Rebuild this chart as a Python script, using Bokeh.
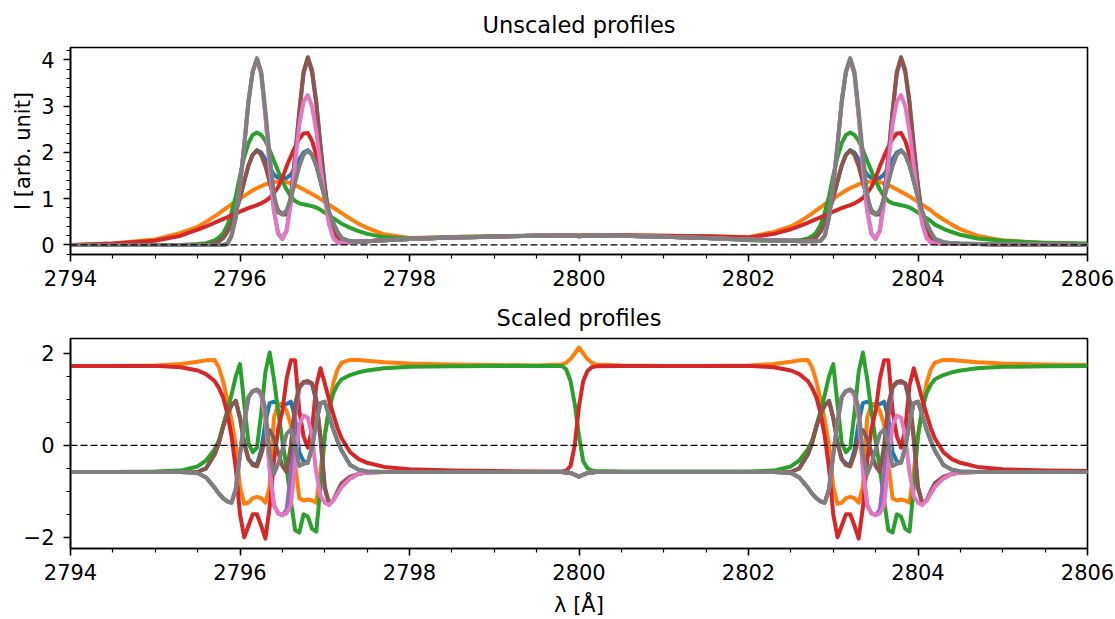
from bokeh.plotting import figure
from bokeh.layouts import column
from bokeh.models import FixedTicker, Span
from bokeh.core.properties import value
from bokeh.embed import file_html
from bokeh.resources import INLINE

# ---------------- wavelength grid (Angstrom) ----------------
wl_blue_edge = [2794.0, 2794.5]
wl_k = [2795.0, 2795.3, 2795.5, 2795.6, 2795.7, 2795.75, 2795.8, 2795.85, 2795.9, 2795.95,
        2796.0, 2796.05, 2796.1, 2796.15, 2796.2, 2796.25, 2796.3, 2796.35, 2796.4, 2796.45,
        2796.5, 2796.55, 2796.6, 2796.65, 2796.7, 2796.75, 2796.8, 2796.85, 2796.9, 2796.95,
        2797.0, 2797.05, 2797.1, 2797.15, 2797.2, 2797.3, 2797.4, 2797.5, 2797.7, 2798.0]
wl_mid = [2798.5, 2799.0, 2799.5, 2799.8, 2799.85, 2799.9, 2799.95, 2800.0, 2800.05,
          2800.1, 2800.15, 2800.2, 2800.5, 2801.0, 2801.5]
wl_h = [2802.0, 2802.3, 2802.5, 2802.6, 2802.7, 2802.75, 2802.8, 2802.85, 2802.9, 2802.95,
        2803.0, 2803.05, 2803.1, 2803.15, 2803.2, 2803.25, 2803.3, 2803.35, 2803.4, 2803.45,
        2803.5, 2803.55, 2803.6, 2803.65, 2803.7, 2803.75, 2803.8, 2803.85, 2803.9, 2803.95,
        2804.0, 2804.05, 2804.1, 2804.15, 2804.2, 2804.3, 2804.4, 2804.5, 2804.7, 2805.0]
wl_red_edge = [2805.5, 2806.0]

# ---------------- unscaled profiles ----------------
# continuum values at: 2 left edge points, 15 middle points, 2 right edge points
u_cont_narrow = [0.0, 0.0, 0.16, 0.18, 0.2, 0.2, 0.2, 0.2, 0.2, 0.19, 0.2, 0.2, 0.2, 0.2, 0.2, 0.18, 0.15, 0.01, 0.0]
u_cont_orange = [0.0, 0.03, 0.17, 0.19, 0.2, 0.21, 0.21, 0.21, 0.21, 0.21, 0.21, 0.21, 0.21, 0.21, 0.21, 0.2, 0.19, 0.04, 0.02]
u_cont_green = [0.0, 0.0, 0.17, 0.19, 0.2, 0.2, 0.2, 0.2, 0.2, 0.2, 0.2, 0.2, 0.2, 0.2, 0.2, 0.18, 0.15, 0.05, 0.03]
u_cont_red = [0.0, 0.03, 0.16, 0.18, 0.2, 0.2, 0.2, 0.2, 0.2, 0.2, 0.2, 0.2, 0.2, 0.2, 0.21, 0.2, 0.19, 0.01, 0.0]

u_blue_k = [0.0, 0.0, 0.0, 0.01, 0.04, 0.08, 0.15, 0.28, 0.48, 0.72, 1.02, 1.38, 1.72, 1.95, 2.05, 2.0, 1.85, 1.68, 1.52, 1.45,
            1.44, 1.45, 1.52, 1.68, 1.85, 2.0, 2.05, 1.95, 1.72, 1.38, 1.02, 0.72, 0.48, 0.28, 0.15, 0.08, 0.07, 0.08, 0.1, 0.13]
u_blue_h = [0.12, 0.1, 0.09, 0.09, 0.1, 0.12, 0.17, 0.29, 0.48, 0.72, 1.02, 1.38, 1.72, 1.95, 2.05, 2.0, 1.85, 1.68, 1.52, 1.45,
            1.44, 1.45, 1.52, 1.68, 1.85, 2.0, 2.05, 1.95, 1.72, 1.38, 1.02, 0.72, 0.48, 0.28, 0.13, 0.06, 0.04, 0.03, 0.02, 0.01]
u_orange_k = [0.12, 0.26, 0.39, 0.5, 0.62, 0.68, 0.75, 0.81, 0.88, 0.94, 1.0, 1.06, 1.12, 1.18, 1.23, 1.27, 1.31, 1.34, 1.36, 1.37,
              1.37, 1.36, 1.33, 1.29, 1.25, 1.2, 1.15, 1.1, 1.05, 0.99, 0.93, 0.87, 0.81, 0.75, 0.69, 0.57, 0.46, 0.37, 0.23, 0.15]
u_orange_h = [0.17, 0.28, 0.4, 0.5, 0.62, 0.68, 0.75, 0.81, 0.88, 0.94, 1.0, 1.06, 1.12, 1.18, 1.23, 1.27, 1.31, 1.34, 1.36, 1.37,
              1.37, 1.36, 1.33, 1.29, 1.25, 1.2, 1.15, 1.1, 1.05, 0.99, 0.93, 0.87, 0.81, 0.75, 0.67, 0.55, 0.44, 0.34, 0.2, 0.1]
u_green_k = [0.0, 0.0, 0.02, 0.04, 0.1, 0.16, 0.25, 0.42, 0.7, 1.05, 1.5, 1.9, 2.2, 2.38, 2.43, 2.38, 2.25, 2.05, 1.82, 1.6,
             1.38, 1.2, 1.05, 0.95, 0.9, 0.88, 0.86, 0.84, 0.81, 0.76, 0.7, 0.64, 0.58, 0.52, 0.46, 0.37, 0.3, 0.24, 0.17, 0.14]
u_green_h = [0.1, 0.09, 0.09, 0.1, 0.14, 0.19, 0.27, 0.43, 0.7, 1.05, 1.5, 1.9, 2.2, 2.38, 2.43, 2.38, 2.25, 2.05, 1.82, 1.6,
             1.38, 1.2, 1.05, 0.95, 0.9, 0.88, 0.86, 0.84, 0.81, 0.76, 0.7, 0.64, 0.58, 0.52, 0.44, 0.35, 0.28, 0.22, 0.14, 0.09]
u_red_k = [0.09, 0.2, 0.33, 0.4, 0.48, 0.52, 0.56, 0.6, 0.64, 0.68, 0.72, 0.76, 0.8, 0.83, 0.86, 0.9, 0.95, 1.02, 1.12, 1.25,
           1.45, 1.7, 1.92, 2.12, 2.3, 2.41, 2.42, 2.25, 1.95, 1.5, 1.05, 0.62, 0.32, 0.16, 0.1, 0.07, 0.07, 0.08, 0.1, 0.13]
u_red_h = [0.16, 0.24, 0.34, 0.41, 0.48, 0.52, 0.56, 0.6, 0.64, 0.68, 0.72, 0.76, 0.8, 0.83, 0.86, 0.9, 0.95, 1.02, 1.12, 1.25,
           1.45, 1.7, 1.92, 2.12, 2.3, 2.41, 2.42, 2.25, 1.95, 1.5, 1.05, 0.62, 0.32, 0.16, 0.08, 0.04, 0.03, 0.02, 0.02, 0.01]
u_purple_k = [0.0, 0.0, 0.0, 0.0, 0.0, 0.0, 0.0, 0.02, 0.2, 0.6, 1.3, 2.15, 3.1, 3.75, 4.02, 3.7, 2.8, 1.7, 0.75, 0.25,
              0.13, 0.32, 1.0, 1.9, 2.85, 3.7, 4.03, 3.72, 3.05, 2.1, 1.25, 0.55, 0.18, 0.06, 0.05, 0.06, 0.07, 0.08, 0.1, 0.13]
u_purple_h = [0.12, 0.1, 0.09, 0.08, 0.08, 0.08, 0.08, 0.09, 0.2, 0.6, 1.3, 2.15, 3.1, 3.75, 4.02, 3.7, 2.8, 1.7, 0.75, 0.25,
              0.13, 0.32, 1.0, 1.9, 2.85, 3.7, 4.03, 3.72, 3.05, 2.1, 1.25, 0.55, 0.18, 0.06, 0.04, 0.03, 0.03, 0.02, 0.02, 0.01]
u_brown_k = [0.0, 0.0, 0.0, 0.01, 0.04, 0.08, 0.15, 0.28, 0.48, 0.72, 1.02, 1.38, 1.72, 1.95, 2.04, 1.95, 1.7, 1.35, 1.0, 0.75,
             0.66, 0.66, 1.05, 1.92, 2.9, 3.75, 4.06, 3.78, 3.1, 2.15, 1.3, 0.6, 0.2, 0.07, 0.06, 0.06, 0.07, 0.08, 0.1, 0.13]
u_brown_h = [0.12, 0.1, 0.09, 0.09, 0.1, 0.12, 0.17, 0.29, 0.48, 0.72, 1.02, 1.38, 1.72, 1.95, 2.04, 1.95, 1.7, 1.35, 1.0, 0.75,
             0.66, 0.66, 1.05, 1.92, 2.9, 3.75, 4.06, 3.78, 3.1, 2.15, 1.3, 0.6, 0.2, 0.07, 0.04, 0.03, 0.03, 0.02, 0.02, 0.01]
u_pink_k = [0.0, 0.0, 0.0, 0.0, 0.0, 0.0, 0.0, 0.02, 0.2, 0.6, 1.3, 2.15, 3.1, 3.75, 4.0, 3.7, 2.8, 1.7, 0.75, 0.25,
            0.13, 0.3, 0.9, 1.75, 2.6, 3.1, 3.24, 3.0, 2.45, 1.7, 1.0, 0.45, 0.15, 0.06, 0.05, 0.06, 0.07, 0.08, 0.1, 0.13]
u_pink_h = [0.12, 0.1, 0.09, 0.08, 0.08, 0.08, 0.08, 0.09, 0.2, 0.6, 1.3, 2.15, 3.1, 3.75, 4.0, 3.7, 2.8, 1.7, 0.75, 0.25,
            0.13, 0.3, 0.9, 1.75, 2.6, 3.1, 3.24, 3.0, 2.45, 1.7, 1.0, 0.45, 0.15, 0.06, 0.04, 0.03, 0.03, 0.02, 0.02, 0.01]
u_gray_k = [0.0, 0.0, 0.0, 0.0, 0.0, 0.0, 0.0, 0.02, 0.2, 0.6, 1.3, 2.15, 3.1, 3.75, 4.04, 3.75, 2.9, 1.95, 1.1, 0.7,
            0.66, 0.75, 1.0, 1.35, 1.7, 1.95, 2.04, 1.95, 1.72, 1.38, 1.02, 0.72, 0.48, 0.28, 0.15, 0.08, 0.07, 0.08, 0.1, 0.13]
u_gray_h = [0.12, 0.1, 0.09, 0.08, 0.08, 0.08, 0.08, 0.09, 0.2, 0.6, 1.3, 2.15, 3.1, 3.75, 4.04, 3.75, 2.9, 1.95, 1.1, 0.7,
            0.66, 0.75, 1.0, 1.35, 1.7, 1.95, 2.04, 1.95, 1.72, 1.38, 1.02, 0.72, 0.48, 0.28, 0.13, 0.06, 0.04, 0.03, 0.02, 0.01]

# ---------------- scaled profiles (same shape read in both line groups) ----------------
s_cont_low = [-0.58, -0.58, -0.58, -0.58, -0.58, -0.58, -0.59, -0.6, -0.64, -0.68, -0.64, -0.6, -0.59, -0.58, -0.58, -0.58, -0.58, -0.58, -0.58]
s_cont_orange = [1.73, 1.73, 1.76, 1.75, 1.74, 1.76, 1.8, 1.88, 2.0, 2.13, 2.0, 1.88, 1.8, 1.76, 1.74, 1.73, 1.73, 1.76, 1.75]
s_cont_green = [-0.58, -0.58, 1.72, 1.73, 1.73, 1.73, 1.65, 1.4, 0.9, 0.2, -0.35, -0.5, -0.55, -0.56, -0.57, -0.57, -0.57, 1.72, 1.73]
s_cont_red = [1.73, 1.73, -0.55, -0.56, -0.57, -0.57, -0.55, -0.45, 0.0, 0.85, 1.4, 1.62, 1.7, 1.72, 1.73, 1.73, 1.73, -0.55, -0.56]

s_blue_line = [-0.58, -0.58, -0.58, -0.5, -0.2, 0.05, 0.4, 0.68, 0.87, 0.97, 0.6, 0.05, -0.3, -0.4, -0.42, -0.1, 0.5, 0.92, 0.95, 0.9,
               0.85, 0.9, 0.95, 0.6, -0.15, -0.35, -0.38, -0.05, 0.5, 0.92, 0.95, 0.65, 0.35, 0.1, -0.12, -0.43, -0.53, -0.57, -0.58, -0.58]
s_orange_line = [1.74, 1.77, 1.82, 1.85, 1.86, 1.7, 1.4, 1.0, 0.55, 0.0, -0.9, -1.27, -1.25, -1.15, -1.12, -1.15, -1.25, -0.9, 0.6, 0.9,
                 0.9, 0.75, 0.45, -0.4, -1.15, -1.2, -1.18, -1.2, -1.25, -0.55, 0.22, 0.8, 1.35, 1.65, 1.8, 1.86, 1.86, 1.84, 1.81, 1.78]
s_green_line = [-0.57, -0.55, -0.46, -0.33, -0.09, 0.1, 0.42, 0.75, 1.1, 1.5, 1.77, 0.9, 0.05, -0.15, -0.05, 0.7, 1.6, 2.02, 1.45, 0.75,
                0.1, -0.5, -1.2, -1.85, -1.9, -1.5, -1.55, -1.82, -1.88, -0.9, 0.2, 0.78, 1.13, 1.32, 1.44, 1.53, 1.59, 1.63, 1.68, 1.71]
s_red_line = [1.73, 1.7, 1.63, 1.55, 1.4, 1.25, 1.05, 0.7, 0.2, -0.5, -1.5, -2.0, -1.75, -1.5, -1.5, -1.75, -2.03, -1.35, -0.35, 0.35,
              0.75, 1.45, 1.85, 1.85, 0.75, 0.2, -0.05, 0.35, 1.3, 1.68, 1.35, 1.0, 0.68, 0.38, 0.15, -0.15, -0.3, -0.38, -0.47, -0.52]
s_purple_line = [-0.58, -0.58, -0.6, -0.7, -0.92, -1.05, -1.15, -1.22, -1.25, -0.95, -0.2, 0.5, 1.05, 1.18, 1.2, 1.1, 0.6, -0.5, -1.3, -1.48,
                 -1.52, -1.4, -0.6, 0.6, 1.25, 1.36, 1.37, 1.33, 0.95, 0.1, -0.95, -1.27, -1.2, -1.05, -0.9, -0.72, -0.62, -0.59, -0.58, -0.58]
s_brown_line = [-0.58, -0.58, -0.58, -0.5, -0.2, 0.05, 0.4, 0.68, 0.87, 0.97, 0.6, 0.05, -0.3, -0.43, -0.46, -0.2, 0.15, 0.33, 0.15, -0.15,
                -0.45, -0.58, 0.0, 0.9, 1.28, 1.38, 1.4, 1.35, 1.0, 0.2, -0.9, -1.25, -1.2, -1.0, -0.82, -0.68, -0.62, -0.59, -0.58, -0.58]
s_pink_line = [-0.58, -0.58, -0.6, -0.7, -0.92, -1.05, -1.15, -1.22, -1.25, -0.95, -0.2, 0.5, 1.05, 1.18, 1.2, 1.1, 0.6, -0.5, -1.3, -1.48,
               -1.52, -1.48, -1.3, -0.4, 0.45, 0.65, 0.6, 0.2, -0.6, -1.1, -1.25, -1.3, -1.2, -1.05, -0.9, -0.72, -0.62, -0.59, -0.58, -0.58]
s_gray_line = [-0.58, -0.58, -0.6, -0.7, -0.92, -1.05, -1.15, -1.22, -1.25, -0.95, -0.2, 0.5, 1.05, 1.18, 1.22, 1.15, 0.8, -0.2, -0.63, -0.4,
               -0.1, 0.25, 0.35, 0.0, -0.45, -0.4, -0.38, -0.05, 0.5, 0.92, 0.95, 0.65, 0.35, 0.1, -0.12, -0.43, -0.53, -0.57, -0.58, -0.58]

colors = ["#1f77b4", "#ff7f0e", "#2ca02c", "#d62728", "#9467bd", "#8c564b", "#e377c2", "#7f7f7f"]

x_ticks = [2794, 2796, 2798, 2800, 2802, 2804, 2806]
x_tick_labels = ["2794", "2796", "2798", "2800", "2802", "2804", "2806"]
x_minor = [2794.5, 2795, 2795.5, 2796.5, 2797, 2797.5, 2798.5, 2799, 2799.5, 2800.5, 2801, 2801.5,
           2802.5, 2803, 2803.5, 2804.5, 2805, 2805.5]
y1_ticks = [0, 1, 2, 3, 4]
y1_minor = [-0.2, 0.2, 0.4, 0.6, 0.8, 1.2, 1.4, 1.6, 1.8, 2.2, 2.4, 2.6, 2.8, 3.2, 3.4, 3.6, 3.8, 4.2]
y2_ticks = [-2, 0, 2]
y2_minor = [-1.5, -1, -0.5, 0.5, 1, 1.5]

wl = wl_blue_edge + wl_k + wl_mid + wl_h + wl_red_edge


def full(cont, k_part, h_part):
    return cont[:2] + k_part + cont[2:17] + h_part + cont[17:]


unscaled = [
    full(u_cont_narrow, u_blue_k, u_blue_h),
    full(u_cont_orange, u_orange_k, u_orange_h),
    full(u_cont_green, u_green_k, u_green_h),
    full(u_cont_red, u_red_k, u_red_h),
    full(u_cont_narrow, u_purple_k, u_purple_h),
    full(u_cont_narrow, u_brown_k, u_brown_h),
    full(u_cont_narrow, u_pink_k, u_pink_h),
    full(u_cont_narrow, u_gray_k, u_gray_h),
]
scaled = [
    full(s_cont_low, s_blue_line, s_blue_line),
    full(s_cont_orange, s_orange_line, s_orange_line),
    full(s_cont_green, s_green_line, s_green_line),
    full(s_cont_red, s_red_line, s_red_line),
    full(s_cont_low, s_purple_line, s_purple_line),
    full(s_cont_low, s_brown_line, s_brown_line),
    full(s_cont_low, s_pink_line, s_pink_line),
    full(s_cont_low, s_gray_line, s_gray_line),
]

FONT = "DejaVu Sans"
LW = 4.0
W = 1115
LEFT, RIGHT = 70, 28
XMIN, XMAX = 2794, 2806
PX_PER_A = (W - LEFT - RIGHT) / (XMAX - XMIN)


def style(p, yticks, yminor, title_standoff):
    p.title.text_font = FONT
    p.title.text_font_size = "22.5px"
    p.title.text_font_style = "normal"
    p.title.text_color = "black"
    p.title.align = "center"
    p.title.standoff = title_standoff
    p.outline_line_color = "black"
    p.outline_line_width = 1.6
    p.outline_line_alpha = 1.0
    p.xgrid.visible = False
    p.ygrid.visible = False
    p.background_fill_color = "white"
    p.border_fill_color = "white"
    p.xaxis.ticker = FixedTicker(ticks=x_ticks, minor_ticks=x_minor)
    p.yaxis.ticker = FixedTicker(ticks=yticks, minor_ticks=yminor)
    for ax in (p.xaxis[0], p.yaxis[0]):
        ax.axis_line_color = "black"
        ax.axis_line_width = 1.6
        ax.major_tick_in = 0
        ax.major_tick_out = 7
        ax.minor_tick_in = 0
        ax.minor_tick_out = 4
        ax.major_tick_line_width = 1.6
        ax.minor_tick_line_width = 1.2
        ax.major_tick_line_color = "black"
        ax.minor_tick_line_color = "black"
        ax.major_label_text_font = FONT
        ax.major_label_text_font_size = "21px"
        ax.major_label_text_color = "black"
        ax.axis_label_text_font = FONT
        ax.axis_label_text_font_size = "21px"
        ax.axis_label_text_font_style = "normal"
        ax.axis_label_text_color = "black"
    # x tick labels are drawn in the strip below each panel (centred on the ticks)
    p.xaxis.major_label_overrides = {t: "" for t in x_ticks}
    p.xaxis.major_label_text_font_size = "0px"
    p.xaxis.major_label_standoff = 0
    p.yaxis.major_label_standoff = 9
    p.yaxis.axis_label_standoff = 3
    p.add_layout(Span(location=0, dimension="width", line_color="black",
                      line_width=1.3, line_dash="7 3"))


def strip(height):
    s = figure(width=W, height=height, title=None,
               x_range=(XMIN - LEFT / PX_PER_A, XMAX + RIGHT / PX_PER_A), y_range=(0, height),
               x_axis_type=None, y_axis_type=None, min_border=0, frame_align=False,
               output_backend="svg", toolbar_location=None)
    s.outline_line_color = None
    s.xgrid.visible = False
    s.ygrid.visible = False
    s.background_fill_color = "white"
    s.border_fill_color = "white"
    return s


def add_texts(s, xs, ys, texts):
    s.text(x=xs, y=ys, text=texts, text_align="center", text_baseline="alphabetic",
           text_font=value(FONT), text_font_size=value("21px"), text_color="black")


# ---- top panel ----
p1 = figure(width=W, height=262, x_range=(XMIN, XMAX), y_range=(-0.206, 4.27),
            output_backend="svg", toolbar_location=None, title="Unscaled profiles",
            min_border_left=LEFT, min_border_right=RIGHT, min_border_top=43, min_border_bottom=8)
for ys, c in zip(unscaled, colors):
    p1.line(wl, ys, line_color=c, line_width=LW, line_join="round")
style(p1, y1_ticks, y1_minor, 19)
p1.yaxis.axis_label = "I [arb. unit]"

s1 = strip(29)
add_texts(s1, x_ticks, [14.0] * len(x_ticks), x_tick_labels)

# ---- bottom panel ----
p2 = figure(width=W, height=265, x_range=(XMIN, XMAX), y_range=(-2.246, 2.326),
            output_backend="svg", toolbar_location=None, title="Scaled profiles",
            min_border_left=LEFT, min_border_right=RIGHT, min_border_top=47, min_border_bottom=8)
for ys, c in zip(scaled, colors):
    p2.line(wl, ys, line_color=c, line_width=LW, line_join="round")
style(p2, y2_ticks, y2_minor, 15)
p2.yaxis.major_label_overrides = {-2: "\u22122", 0: "0", 2: "2"}

s2 = strip(63)
add_texts(s2, x_ticks, [48.0] * len(x_ticks), x_tick_labels)
add_texts(s2, [(XMIN + XMAX) / 2], [15.0], ["λ [Å]"])

layout = column(p1, s1, p2, s2)
open("out.html", "w").write(file_html(layout, INLINE))
